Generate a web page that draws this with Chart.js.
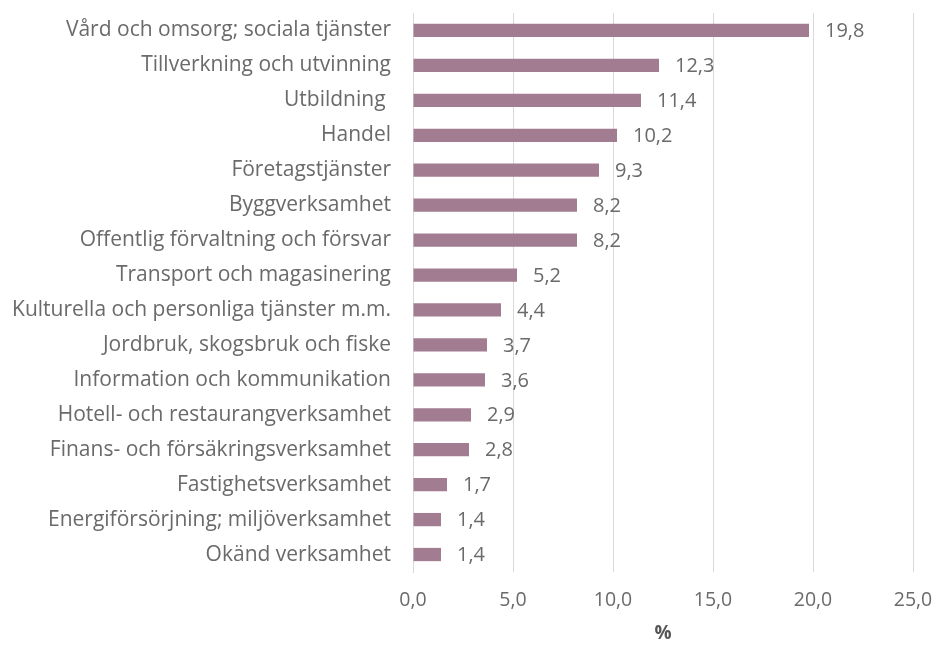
<!DOCTYPE html>
<html>
<head>
<meta charset="utf-8">
<script src="https://cdn.jsdelivr.net/npm/chart.js@4"></script>
<style>
  html, body { margin: 0; padding: 0; background: #fff; }
  #wrap { width: 939px; height: 649px; }
</style>
</head>
<body>
<div id="wrap"><canvas id="chart" width="939" height="649"></canvas></div>
<script>
const categories = [
  'Vård och omsorg; sociala tjänster',
  'Tillverkning och utvinning',
  'Utbildning ',
  'Handel',
  'Företagstjänster',
  'Byggverksamhet',
  'Offentlig förvaltning och försvar',
  'Transport och magasinering',
  'Kulturella och personliga tjänster m.m.',
  'Jordbruk, skogsbruk och fiske',
  'Information och kommunikation',
  'Hotell- och restaurangverksamhet',
  'Finans- och försäkringsverksamhet',
  'Fastighetsverksamhet',
  'Energiförsörjning; miljöverksamhet',
  'Okänd verksamhet',
];
const shares = [19.8, 12.3, 11.4, 10.2, 9.3, 8.2, 8.2, 5.2, 4.4, 3.7, 3.6, 2.9, 2.8, 1.7, 1.4, 1.4];
const xTicks = [0, 5, 10, 15, 20, 25];

const textColor = '#6a6a6a';
const fontFamily = '"Open Sans", "Liberation Sans", sans-serif';

function fmt(v) {
  return v.toFixed(1).replace('.', ',');
}

// labels drawn to the right of each bar
const valueLabels = {
  id: 'valueLabels',
  afterDatasetsDraw(chart) {
    const ctx = chart.ctx;
    const meta = chart.getDatasetMeta(0);
    ctx.save();
    ctx.fillStyle = textColor;
    ctx.font = `20px ${fontFamily}`;
    ctx.textAlign = 'left';
    ctx.textBaseline = 'middle';
    meta.data.forEach((bar, i) => {
      ctx.fillText(fmt(shares[i]), bar.x + 16, bar.y + 1);
    });
    ctx.restore();
  },
};

new Chart(document.getElementById('chart'), {
  type: 'bar',
  data: {
    labels: categories,
    datasets: [{
      data: shares,
      backgroundColor: '#a27c91',
      barPercentage: 0.38,
      categoryPercentage: 1,
    }],
  },
  options: {
    indexAxis: 'y',
    responsive: false,
    animation: false,
    layout: { padding: { top: 13, right: 26, left: 0, bottom: 0 } },
    plugins: {
      legend: { display: false },
      tooltip: { enabled: false },
    },
    scales: {
      x: {
        min: 0,
        max: 25,
        afterBuildTicks(scale) {
          scale.ticks = xTicks.map((v) => ({ value: v }));
        },
        afterFit(scale) {
          scale.height = 77;
          scale.paddingLeft = 0;
          scale.paddingRight = 0;
        },
        grid: { color: '#d9d9d9', drawTicks: false },
        border: { display: false },
        ticks: {
          color: textColor,
          font: { family: fontFamily, size: 19.5 },
          padding: 17,
          callback: (v) => fmt(v),
        },
        title: {
          display: true,
          text: '%',
          color: '#555',
          font: { family: fontFamily, size: 19, weight: 'bold' },
          padding: { top: 0, bottom: 4 },
        },
      },
      y: {
        afterFit(scale) {
          scale.width = 413;
          scale.paddingTop = 0;
          scale.paddingBottom = 0;
        },
        grid: { display: false, drawTicks: false },
        border: { display: true, color: '#d9d9d9' },
        ticks: {
          color: textColor,
          font: { family: fontFamily, size: 21 },
          padding: 22,
          autoSkip: false,
        },
      },
    },
  },
  plugins: [valueLabels],
});
</script>
</body>
</html>
